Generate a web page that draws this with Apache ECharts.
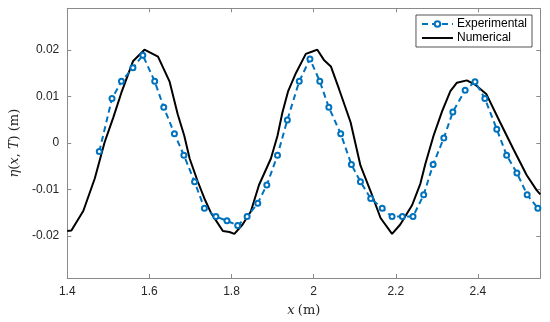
<!DOCTYPE html>
<html><head><meta charset="utf-8">
<script src="https://cdn.jsdelivr.net/npm/echarts@6/dist/echarts.min.js"></script>
<style>html,body{margin:0;padding:0;background:#fff}#c{width:550px;height:322px}</style>
</head><body><div id="c"></div>
<script>
const expX = [1.478,1.509,1.532,1.560,1.584,1.613,1.635,1.661,1.684,1.710,1.734,1.762,1.789,1.815,1.838,1.864,1.886,1.912,1.936,1.965,1.991,2.015,2.037,2.066,2.092,2.114,2.139,2.167,2.191,2.216,2.242,2.268,2.291,2.317,2.339,2.369,2.393,2.417,2.446,2.470,2.495,2.520,2.546];
const expY = [-0.0018,0.0096,0.0133,0.0162,0.0189,0.0133,0.0077,0.0020,-0.0026,-0.0083,-0.0140,-0.0158,-0.0167,-0.0177,-0.0158,-0.0129,-0.0090,-0.0026,0.0050,0.0133,0.0181,0.0133,0.0077,0.0020,-0.0046,-0.0083,-0.0119,-0.0140,-0.0158,-0.0158,-0.0158,-0.0111,-0.0046,0.0011,0.0067,0.0114,0.0132,0.0096,0.0030,-0.0026,-0.0064,-0.0111,-0.0140];
const numX = [1.400,1.410,1.439,1.467,1.491,1.512,1.532,1.560,1.588,1.621,1.649,1.669,1.685,1.698,1.718,1.734,1.750,1.779,1.795,1.807,1.827,1.847,1.867,1.896,1.912,1.924,1.938,1.957,1.981,1.997,2.009,2.025,2.042,2.062,2.090,2.114,2.139,2.163,2.191,2.211,2.240,2.260,2.272,2.292,2.313,2.333,2.349,2.373,2.393,2.421,2.454,2.486,2.519,2.543,2.552];
const numY = [-0.0189,-0.0188,-0.0146,-0.0076,0.0002,0.0055,0.0109,0.0176,0.0201,0.0186,0.0133,0.0062,0.0016,-0.0033,-0.0083,-0.0119,-0.0150,-0.0189,-0.0191,-0.0195,-0.0175,-0.0147,-0.0090,-0.0033,0.0016,0.0066,0.0112,0.0151,0.0192,0.0197,0.0201,0.0179,0.0165,0.0116,0.0045,-0.0048,-0.0104,-0.0161,-0.0195,-0.0175,-0.0133,-0.0087,-0.0045,0.0016,0.0069,0.0112,0.0130,0.0135,0.0126,0.0105,0.0045,-0.0012,-0.0069,-0.0101,-0.0110];
const xTicks = [1.4,1.6,1.8,2,2.2,2.4];
const yTicks = [-0.02,-0.01,0,0.01,0.02];
const seriesNames = ['Experimental','Numerical'];

const axisCol = '#8a8a8a';
const txtCol = '#262626';
const fnt = 'Liberation Sans, Arial, sans-serif';
function fmt(v){ return String(+(+v).toFixed(3)); }

const chart = echarts.init(document.getElementById('c'), null, {renderer:'canvas'});
const baseAxis = (vals, show) => ({
  axisLine:{show:true, onZero:false, lineStyle:{color:axisCol, width:1}},
  axisTick:{show:true, inside:true, length:4, customValues:vals, lineStyle:{color:axisCol}},
  axisLabel:{show:show, customValues:vals, formatter:fmt, color:txtCol, fontSize:12, fontFamily:fnt},
  splitLine:{show:false}
});
const rich = {i:{fontFamily:'DejaVu Serif, serif', fontStyle:'italic', fontSize:13, color:txtCol}, n:{fontFamily:'DejaVu Serif, serif', fontSize:13, color:txtCol}};
chart.setOption({
  animation:false,
  backgroundColor:'#fff',
  grid:{left:65.7, right:9.7, top:8.3, bottom:42, containLabel:false},
  legend:{
    orient:'vertical', right:18, top:15,
    backgroundColor:'#fff', borderColor:'#2a2a2a', borderWidth:0.8,
    padding:[3,5,3,5], itemGap:2, itemWidth:31, itemHeight:7,
    textStyle:{color:'#000', fontSize:12, fontFamily:fnt, padding:[0,0,0,-1]},
    data:[{name:seriesNames[0]}, {name:seriesNames[1], icon:'path://M0,0H32V2H0Z'}]
  },
  xAxis:[
    Object.assign({type:'value', min:1.4, max:2.552, position:'bottom',
      name:'{i|x} {n|(m)}', nameLocation:'middle', nameGap:26,
      nameTextStyle:{rich:rich}
    }, baseAxis(xTicks, true)),
    Object.assign({type:'value', min:1.4, max:2.552, position:'top'}, baseAxis(xTicks, false))
  ],
  yAxis:[
    Object.assign({type:'value', min:-0.029, max:0.029, position:'left',
      name:'{i|η}{n|(}{i|x}{n|, }{i|T}{n|) (m)}', nameLocation:'middle', nameGap:42, nameRotate:90,
      nameTextStyle:{rich:rich}
    }, baseAxis(yTicks, true)),
    Object.assign({type:'value', min:-0.029, max:0.029, position:'right'}, baseAxis(yTicks, false))
  ],
  series:[
    {name:seriesNames[0], type:'line', xAxisIndex:0, yAxisIndex:0,
      data:expX.map((x,i)=>[x,expY[i]]),
      symbol:'emptyCircle', symbolSize:5, showSymbol:true,
      itemStyle:{color:'#0072BD', borderWidth:1.5, borderColor:'#0072BD'},
      lineStyle:{color:'#0072BD', width:2, type:[6,4]}, z:3},
    {name:seriesNames[1], type:'line', xAxisIndex:0, yAxisIndex:0,
      data:numX.map((x,i)=>[x,numY[i]]),
      symbol:'none', showSymbol:false,
      itemStyle:{color:'#000'},
      lineStyle:{color:'#000', width:2}, z:2}
  ]
});
</script></body></html>
